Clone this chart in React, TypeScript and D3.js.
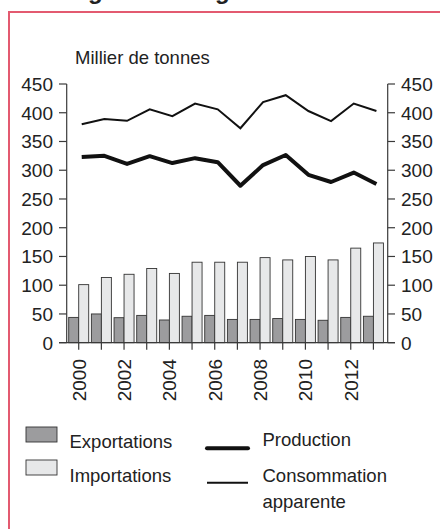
import React from "react";
import * as d3 from "d3";

const years = [2000, 2001, 2002, 2003, 2004, 2005, 2006, 2007, 2008, 2009, 2010, 2011, 2012, 2013];
const exportations = [44, 50, 43.5, 47.5, 39.5, 46, 47.5, 40.5, 40.5, 42, 40.5, 39, 44, 46];
const importations = [101, 113.5, 119, 129, 120.5, 140, 140, 140, 148, 144, 150, 144, 164.5, 173.5];
const production = [323, 325, 311, 324.5, 312.5, 321, 314, 273, 309, 326.5, 292, 279.5, 296, 276];
const consommation = [380, 389, 386, 406, 394, 416, 406, 373, 418.5, 430.5, 403, 385.5, 416, 403];
const yTicks = [0, 50, 100, 150, 200, 250, 300, 350, 400, 450];
const xTickLabels = [2000, 2002, 2004, 2006, 2008, 2010, 2012];

const FONT = "'Liberation Sans', Arial, Helvetica, sans-serif";

export default function App() {
  const W = 440, H = 529;
  const leftX = 66.7, rightX = 387.7;
  const y = d3.scaleLinear().domain([0, 450]).range([342.7, 84]);
  const x = d3.scaleBand<number>().domain(years).range([67.37, 384.75]).paddingInner(0.1176).paddingOuter(0.0588);
  const sub = d3.scaleBand<string>().domain(["exp", "imp"]).range([0, x.bandwidth()]);
  const cx = (yr: number) => (x(yr) as number) + x.bandwidth() / 2;
  const lineOffset = 3;
  const line = d3.line<number>().x((_, i) => cx(years[i]) + lineOffset).y((d) => y(d));
  const axisColor = "#3a3a3a";

  return (
    <svg width={W} height={H} style={{ position: "fixed", left: 0, top: 0 }} fontFamily={FONT}>
      <rect width={W} height={H} fill="#fff" />
      {/* cut-off title */}
      <text x={88} y={-1} fontSize={24} fontWeight="bold" fill="#222">g</text>
      <text x={215} y={-1} fontSize={24} fontWeight="bold" fill="#222">g</text>
      {/* frame */}
      <path d={`M9,${H + 2} V12 H${W + 2}`} fill="none" stroke="#e35a70" strokeWidth={2} />

      <text x={75} y={64} fontSize={18.5} fill="#222">Millier de tonnes</text>

      {/* bars */}
      {years.map((yr, i) => (
        <g key={yr}>
          <rect x={(x(yr) as number) + (sub("exp") as number)} y={y(exportations[i])} width={sub.bandwidth()} height={y(0) - y(exportations[i])} fill="#9c9c9e" stroke="#333" strokeWidth={0.9} />
          <rect x={(x(yr) as number) + (sub("imp") as number)} y={y(importations[i])} width={sub.bandwidth()} height={y(0) - y(importations[i])} fill="#e7e8e9" stroke="#333" strokeWidth={0.9} />
        </g>
      ))}

      {/* axes */}
      <line x1={leftX} x2={leftX} y1={y(450)} y2={y(0)} stroke={axisColor} strokeWidth={1.2} />
      <line x1={rightX} x2={rightX} y1={y(450)} y2={y(0)} stroke={axisColor} strokeWidth={1.2} />
      <line x1={59} x2={395} y1={y(0)} y2={y(0)} stroke={axisColor} strokeWidth={1.2} />
      {yTicks.map((t) => (
        <g key={t}>
          <line x1={59} x2={leftX} y1={y(t)} y2={y(t)} stroke={axisColor} strokeWidth={1.2} />
          <text x={53} y={y(t) + 6.8} fontSize={19} textAnchor="end" fill="#222">{t}</text>
          <line x1={rightX} x2={395} y1={y(t)} y2={y(t)} stroke={axisColor} strokeWidth={1.2} />
          <text x={401} y={y(t) + 6.8} fontSize={19} textAnchor="start" fill="#222">{t}</text>
        </g>
      ))}
      {years.map((yr) => (
        <line key={yr} x1={cx(yr)} x2={cx(yr)} y1={y(0)} y2={y(0) + 7} stroke={axisColor} strokeWidth={1.2} />
      ))}
      {xTickLabels.map((yr) => (
        <text key={yr} transform={`translate(${cx(yr) + 6.8},359) rotate(-90)`} fontSize={19} textAnchor="end" fill="#222">{yr}</text>
      ))}

      {/* lines */}
      <path d={line(consommation) as string} fill="none" stroke="#111" strokeWidth={2} strokeLinejoin="miter" />
      <path d={line(production) as string} fill="none" stroke="#111" strokeWidth={4} strokeLinejoin="round" />

      {/* legend */}
      <rect x={26} y={427} width={31} height={15} fill="#9c9c9e" stroke="#333" strokeWidth={0.9} />
      <text x={69.5} y={447.5} fontSize={18.5} fill="#222">Exportations</text>
      <rect x={26} y={460} width={31} height={15} fill="#e7e8e9" stroke="#333" strokeWidth={0.9} />
      <text x={69.5} y={481.5} fontSize={18.5} fill="#222">Importations</text>
      <line x1={207} x2={248} y1={448.3} y2={448.3} stroke="#111" strokeWidth={4} strokeLinecap="round" />
      <text x={262.5} y={446} fontSize={18.5} fill="#222">Production</text>
      <line x1={207} x2={248} y1={482.7} y2={482.7} stroke="#111" strokeWidth={2} />
      <text x={262.5} y={481.5} fontSize={18.5} fill="#222">Consommation</text>
      <text x={262.5} y={508} fontSize={18.5} fill="#222">apparente</text>
    </svg>
  );
}
